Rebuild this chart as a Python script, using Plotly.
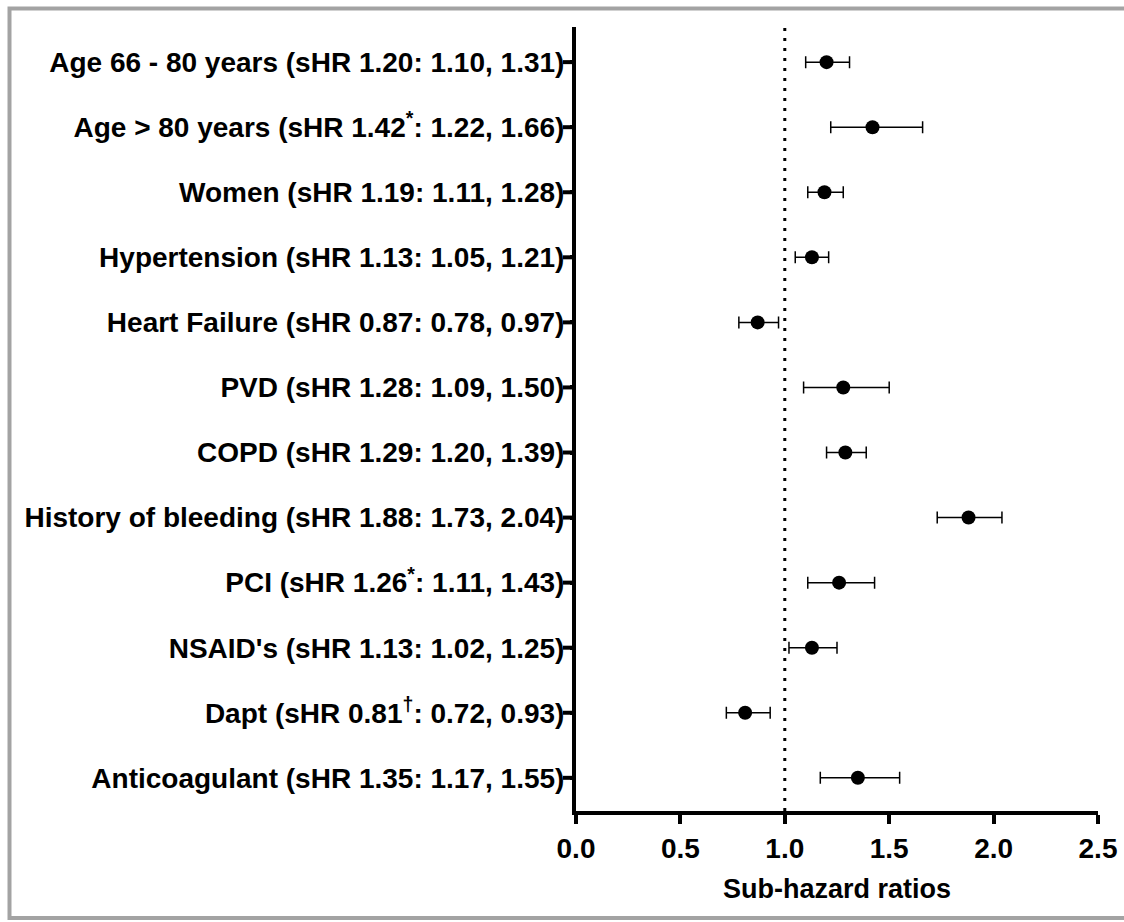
import plotly.graph_objects as go

names = ["Age 66 - 80 years", "Age > 80 years", "Women", "Hypertension", "Heart Failure",
         "PVD", "COPD", "History of bleeding", "PCI", "NSAID's", "Dapt", "Anticoagulant"]
marks = ["", "*", "", "", "", "", "", "", "*", "", "†", ""]
shr = [1.20, 1.42, 1.19, 1.13, 0.87, 1.28, 1.29, 1.88, 1.26, 1.13, 0.81, 1.35]
lower = [1.10, 1.22, 1.11, 1.05, 0.78, 1.09, 1.20, 1.73, 1.11, 1.02, 0.72, 1.17]
upper = [1.31, 1.66, 1.28, 1.21, 0.97, 1.50, 1.39, 2.04, 1.43, 1.25, 0.93, 1.55]
x_ticks = [0.0, 0.5, 1.0, 1.5, 2.0, 2.5]

labels = []
for n, m, h, lo, hi in zip(names, marks, shr, lower, upper):
    sup = f"<sup>{m}</sup>" if m else ""
    labels.append(f"{n} (sHR {h:.2f}{sup}: {lo:.2f}, {hi:.2f})")

pos = list(range(len(names)))

W, H = 1124, 922
L, R, T, B = 576, 26, 27, 111
pw, ph = W - L - R, H - T - B


def px_x(p):
    return (p - L) / pw


def px_y(p):
    return 1 - (p - T) / ph


FONT = "Liberation Sans, Arial, sans-serif"

fig = go.Figure()
fig.add_trace(go.Scatter(
    x=shr, y=pos, mode="markers",
    marker=dict(size=14, color="black"),
    error_x=dict(type="data", symmetric=False,
                 array=[hi - h for hi, h in zip(upper, shr)],
                 arrayminus=[h - lo for h, lo in zip(shr, lower)],
                 thickness=1.5, width=6, color="black"),
    showlegend=False, cliponaxis=False,
))

fig.add_shape(type="line", xref="x", yref="paper", x0=1.0, x1=1.0, y0=0, y1=1,
              line=dict(color="black", width=3, dash="3px,7px"), layer="below")

# y-axis tick marks
for p in pos:
    fig.add_shape(type="line", xref="paper", yref="y", x0=px_x(563), x1=px_x(575), y0=p, y1=p,
                  line=dict(color="black", width=4))

fig.add_shape(type="rect", xref="paper", yref="paper",
              x0=px_x(9.5), x1=px_x(1135), y0=px_y(8.5), y1=px_y(918),
              line=dict(color="#a3a3a3", width=4), fillcolor="rgba(0,0,0,0)", layer="below")

fig.update_layout(
    width=W, height=H,
    margin=dict(l=L, r=R, t=T, b=B, autoexpand=False),
    paper_bgcolor="white", plot_bgcolor="white",
    font=dict(family=FONT, color="black"),
)
fig.update_xaxes(
    range=[0, 2.5], tickvals=x_ticks, ticktext=[f"{v:.1f}" for v in x_ticks],
    showline=True, linecolor="black", linewidth=4,
    ticks="outside", ticklen=9, tickwidth=4, tickcolor="black",
    tickfont=dict(size=28, family=FONT, weight="bold"),
    showgrid=False, zeroline=False,
    title=dict(text="<b>Sub-hazard ratios</b>", font=dict(size=27, family=FONT), standoff=18),
)
fig.update_yaxes(
    range=[11.51, -0.54], tickvals=pos, ticktext=labels,
    showline=True, linecolor="black", linewidth=4,
    ticks="outside", ticklen=2, tickwidth=4, tickcolor="black",
    tickfont=dict(size=28, family=FONT, weight="bold"),
    showgrid=False, zeroline=False,
)

fig.write_html("out.html")
